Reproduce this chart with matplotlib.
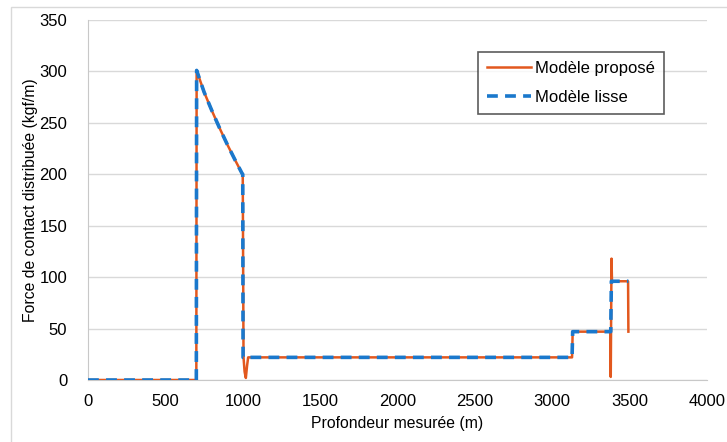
import matplotlib
matplotlib.use("Agg")
from matplotlib import pyplot as plt
from matplotlib.patches import Rectangle

plt.rcParams['font.family'] = ['Liberation Sans', 'DejaVu Sans']

# Modèle proposé (orange)
prop_x = [0, 700, 702, 750, 800, 850, 900, 950, 995, 1000, 1005, 1012, 1020, 1028, 1035,
          3128, 3132, 3376, 3378, 3383, 3386, 3490, 3492]
prop_y = [0, 0, 301, 280, 262, 245, 229, 214, 201, 200, 22, 8, 2, 14, 22,
          22, 47, 47, 3, 118, 96, 96, 47]

# Modèle lisse (bleu pointillé)
lisse_x = [0, 700, 702, 750, 800, 850, 900, 950, 995, 1000, 1002, 3128, 3132, 3378, 3382, 3492]
lisse_y = [0, 0, 301, 280, 262, 245, 229, 214, 201, 200, 22, 22, 47, 47, 96, 96]

fig = plt.figure(figsize=(7.27, 4.42), dpi=100)
ax = fig.add_axes([88/727, 1-380/442, (707-88)/727, 360/442])

ax.plot(prop_x, prop_y, color="#E2581E", lw=1.8, label="Modèle proposé", zorder=3)
ax.plot(lisse_x, lisse_y, color="#1A78CC", lw=2.6, ls=(0, (3, 2)), label="Modèle lisse", zorder=4)

ax.set_xlim(0, 4000)
ax.set_ylim(0, 350)
ax.set_xticks(range(0, 4001, 500))
ax.set_yticks(range(0, 351, 50))
ax.tick_params(length=0, labelsize=12)
ax.tick_params(axis="y", pad=15)
ax.tick_params(axis="x", pad=10)
ax.grid(axis="y", color="#D9D9D9", lw=1)
ax.set_axisbelow(True)
for s in ["top", "right"]:
    ax.spines[s].set_visible(False)
for s in ["left", "bottom"]:
    ax.spines[s].set_color("#C8C8C8")

ax.set_xlabel("Profondeur mesurée (m)", fontsize=11.3, labelpad=5)
ax.set_ylabel("Force de contact distribuée (kgf/m)", fontsize=11.3)
ax.yaxis.set_label_coords((38 - 88) / 619, 0.5)

leg = ax.legend(loc="upper left", bbox_to_anchor=((478-88)/619, 1-(52-20)/360),
                borderaxespad=0, fontsize=12, frameon=True, fancybox=False,
                handlelength=2.6, handletextpad=0.25, borderpad=0.55, labelspacing=0.8)
leg.get_frame().set_edgecolor("#333333")
leg.get_frame().set_linewidth(1.2)

fig.patches.append(Rectangle((11/727, -0.1), 1.2, 1-7/442+0.1, transform=fig.transFigure,
                             fill=False, edgecolor="#D9D9D9", lw=1))

fig.savefig("out.png", dpi=100)
